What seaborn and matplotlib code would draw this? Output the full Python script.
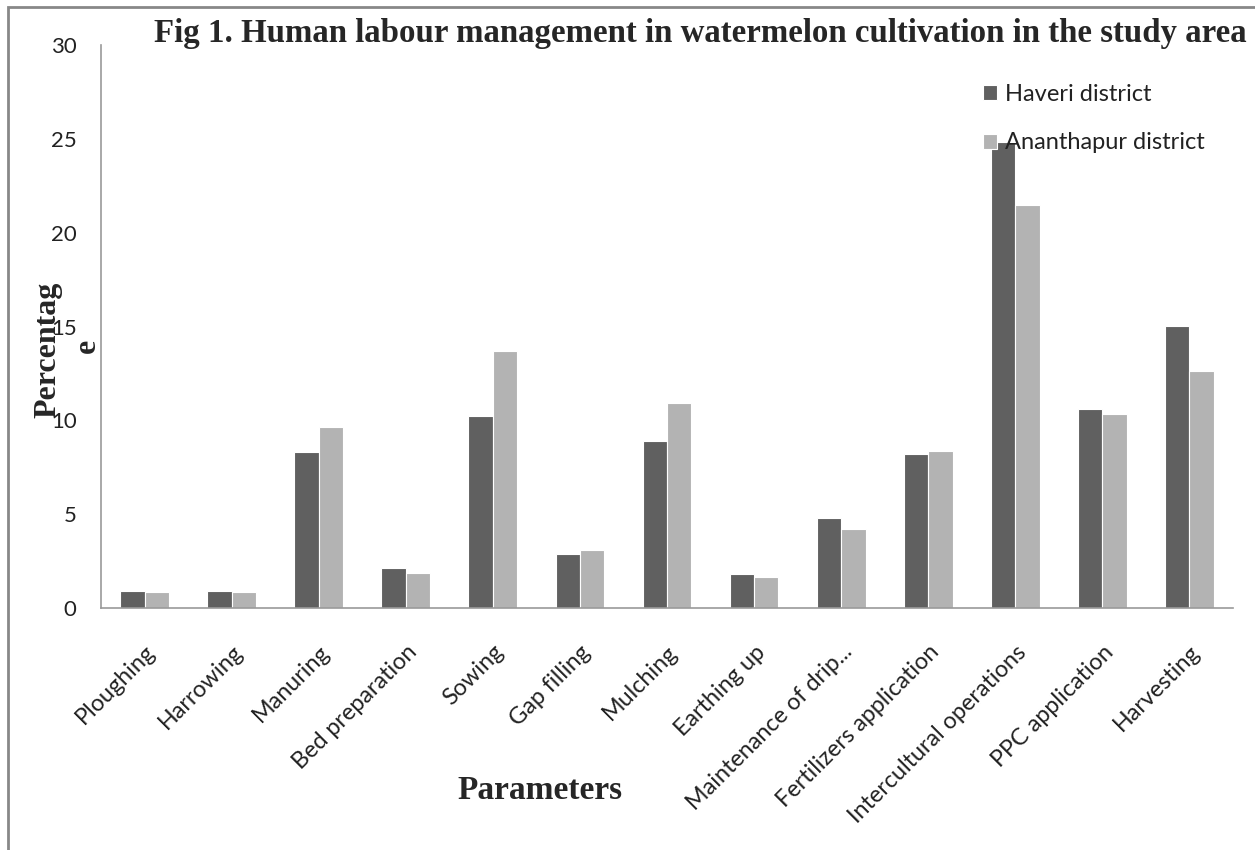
import numpy as np
import pandas as pd
import matplotlib
matplotlib.use('Agg')
import matplotlib.pyplot as plt
import matplotlib.transforms as mtransforms
import seaborn as sns
from matplotlib.patches import Rectangle

# data
categories = ['Ploughing', 'Harrowing', 'Manuring', 'Bed preparation', 'Sowing',
              'Gap filling', 'Mulching', 'Earthing up', 'Maintenance of drip...',
              'Fertilizers application', 'Intercultural operations',
              'PPC application', 'Harvesting']
haveri = [0.9, 0.9, 8.3, 2.15, 10.25, 2.9, 8.9, 1.8, 4.8, 8.2, 24.85, 10.6, 15.05]
ananthapur = [0.85, 0.85, 9.65, 1.85, 13.7, 3.1, 10.9, 1.65, 4.2, 8.35, 21.5, 10.35, 12.65]
series = ['Haveri district', 'Ananthapur district']
y_ticks = [0, 5, 10, 15, 20, 25, 30]

df = pd.DataFrame({
    'Parameter': categories * 2,
    'District': [series[0]] * len(categories) + [series[1]] * len(categories),
    'Value': haveri + ananthapur,
})

sns.set_style('white')
plt.rcParams['font.family'] = ['Lato', 'DejaVu Sans']

f = plt.figure(figsize=(12.55, 8.5), dpi=100)
ax = f.add_axes([0.0805, 0.2847, 0.902, 0.6623])

palette = {series[0]: '#606060', series[1]: '#b3b3b3'}
sns.barplot(data=df, x='Parameter', y='Value', hue='District', order=categories,
            hue_order=series, palette=palette, width=0.56, gap=0,
            edgecolor='white', linewidth=0.8, saturation=1, ax=ax)

ax.set_xlim(-0.5, len(categories) - 0.5)
ax.set_ylim(0, 30)
ax.set_yticks(y_ticks)
ax.set_yticklabels([str(t) for t in y_ticks], fontsize=16, color='#222222')
ax.set_xticks(range(len(categories)))
ax.set_xticklabels(categories, rotation=45, ha='right', rotation_mode='anchor',
                   fontsize=16.8, color='#222222')
shift = mtransforms.ScaledTranslation(5 / 100, 0, f.dpi_scale_trans)
for lab in ax.get_xticklabels():
    lab.set_transform(lab.get_transform() + shift)
ax.set_xticks(np.arange(-0.5, len(categories), 1), minor=True)
ax.tick_params(axis='x', which='major', length=0, pad=24)
ax.tick_params(axis='x', which='minor', length=7, color='#999999', width=1, direction='out')
ax.tick_params(axis='y', length=6.5, color='#999999', width=1, direction='out', pad=11)

for side in ['top', 'right']:
    ax.spines[side].set_visible(False)
for side in ['left', 'bottom']:
    ax.spines[side].set_color('#999999')
    ax.spines[side].set_linewidth(1.2)

ax.set_xlabel('')
ax.set_ylabel('')

# legend without frame
leg = ax.legend(loc='upper left', bbox_to_anchor=(0.76, 0.968), frameon=False,
                fontsize=17, handlelength=0.6, handleheight=0.6, handletextpad=0.35,
                labelspacing=1.15)
for t in leg.get_texts():
    t.set_color('#222222')

serif = ['Liberation Serif', 'DejaVu Serif']
f.text(0.123, 0.961, 'Fig 1. Human labour management in watermelon cultivation in the study area',
       fontsize=23.7, fontweight='bold', family=serif, va='center', ha='left')
f.text(0.038, 0.588, 'Percentag', rotation=90, fontsize=23, fontweight='bold',
       family=serif, va='center', ha='center')
f.text(0.07, 0.593, 'e', rotation=90, fontsize=23, fontweight='bold',
       family=serif, va='center', ha='center')
f.text(0.43, 0.07, 'Parameters', fontsize=24, fontweight='bold', family=serif,
       va='center', ha='center')

# outer chart frame
f.patches.append(Rectangle((0.0065, -0.1), 1.1, 1.092, transform=f.transFigure,
                           fill=False, edgecolor='#888888', linewidth=2))

f.savefig('out.png', dpi=100)
